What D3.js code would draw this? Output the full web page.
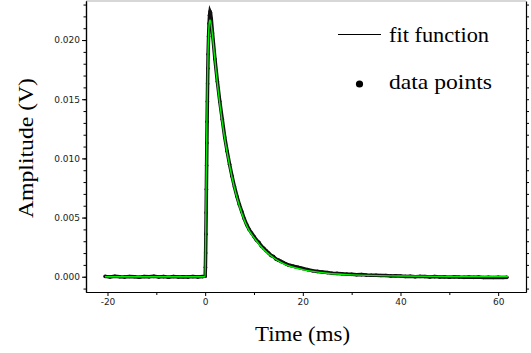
<!DOCTYPE html>
<html>
<head>
<meta charset="utf-8">
<script src="https://cdn.jsdelivr.net/npm/d3@7"></script>
<style>
  html, body { margin: 0; padding: 0; background: #fff; }
  svg { display: block; }
</style>
</head>
<body>
<div id="chart"></div>
<script>
// Measured trace (time in ms, amplitude in V)
const dataTime = [
  -20.5, -19.5, -18.5, -17.5, -16.5, -15.5, -14.5, -13.5, -12.5, -11.5, -10.5,
  -9.5, -8.5, -7.5, -6.5, -5.5, -4.5, -3.5, -2.5, -1.5, -0.5, 0,
  0.05, 0.1, 0.15, 0.2, 0.25, 0.3, 0.35, 0.4, 0.45, 0.5, 0.55, 0.6, 0.7, 0.8, 0.9, 1.0, 1.1, 1.25,
  1.5, 2, 2.5, 3, 3.5, 4, 4.5, 5, 5.5, 6, 6.5, 7, 7.5, 8, 8.5, 9, 9.5, 10,
  10.5, 11, 11.5, 12, 12.5, 13, 13.5, 14, 14.5, 15, 15.5, 16, 16.5, 17, 17.5, 18, 18.5, 19, 19.5, 20,
  21, 22, 23, 24, 25, 26, 27, 28, 29, 30, 31, 32, 33, 34, 35, 36, 37, 38, 39, 40,
  41, 42, 43, 44, 45, 46, 47, 48, 49, 50, 51, 52, 53, 54, 55, 56, 57, 58, 59, 60, 61, 61.8
];
const dataAmp = [
  0.00003, -0.00002, 0.00004, 0.0000, -0.00003, 0.00002, 0.0000, -0.00004, 0.00002, -0.00001, 0.00003,
  -0.00002, 0.00001, -0.00004, 0.00002, -0.00002, 0.0000, -0.00003, 0.00001, -0.00002, 0.00001, 0.00005,
  0.0008, 0.0020, 0.0036, 0.0054, 0.0074, 0.0094, 0.0113, 0.0131, 0.0148, 0.0163, 0.0176, 0.0188, 0.0203, 0.0214, 0.0221, 0.0224, 0.0223, 0.0218,
  0.0206, 0.0184, 0.0165, 0.0148, 0.0133, 0.0118, 0.0106, 0.0095, 0.0085, 0.0076, 0.0068, 0.0061, 0.0055, 0.0049, 0.0044, 0.0040, 0.0037, 0.0034,
  0.0031, 0.0029, 0.0026, 0.0024, 0.0022, 0.0020, 0.0018, 0.0017, 0.0015, 0.0014, 0.0013, 0.0012, 0.0011, 0.0010, 0.00095, 0.0009, 0.00085, 0.0008, 0.00075, 0.0007,
  0.0006, 0.0005, 0.00045, 0.0004, 0.00035, 0.0003, 0.00028, 0.00025, 0.00022, 0.0002, 0.00017, 0.00018, 0.00014, 0.00012, 0.00012, 0.0001, 0.0001, 0.00007, 0.00008, 0.00006,
  0.00003, 0.00004, 0.0000, 0.00003, 0.00001, -0.00002, 0.00001, -0.00002, 0.0000, -0.00004, 0.0000, -0.00003, -0.00005, -0.00002, -0.00005, -0.00003, -0.00006, -0.00004, -0.00006, -0.00004, -0.00007, -0.00005
];

// Fitted curve (time in ms, amplitude in V)
const fitTime = [
  -20.5, -10, -1, 0, 0.1, 0.2, 0.3, 0.4, 0.5, 0.6, 0.7, 0.8, 0.9, 1.0, 1.1, 1.3, 1.6,
  2, 3, 4, 5, 6, 7, 8, 9, 10, 12, 14, 16, 18, 20, 25, 30, 40, 50, 62
];
const fitAmp = [
  0, 0, 0, 0, 0.0035, 0.0075, 0.0112, 0.0145, 0.0171, 0.0191, 0.0204, 0.0212, 0.0216, 0.0217, 0.0216, 0.0211, 0.0200,
  0.0183, 0.0146, 0.0117, 0.0094, 0.0075, 0.0060, 0.0048, 0.0039, 0.0033, 0.0023, 0.0016, 0.0011, 0.0008, 0.0006, 0.0003, 0.00016, 0.00006, 0.00002, 0.00001
];

// Axis ticks
const xMajorTicks = [-20, 0, 20, 40, 60];
const xMinorTicks = [-10, 10, 30, 50];
const yMajorTicks = [0, 0.005, 0.01, 0.015, 0.02];
const yMinorTicks = d3.range(-0.001, 0.0235, 0.001);

const legendLabels = ['fit function', 'data points'];

const width = 531;
const height = 353;
const margin = { left: 86, right: 5, top: 1, bottom: 61 };

const svg = d3.select('#chart')
  .append('svg')
    .attr('width', width)
    .attr('height', height);

// Scales
const x = d3.scaleLinear()
  .domain([-24.4, 65.7])
  .range([margin.left, width - margin.right]);
const y = d3.scaleLinear()
  .domain([-0.00129, 0.0233])
  .range([height - margin.bottom, margin.top]);

const tickFont = '9px "DejaVu Sans", sans-serif';
const serif = '"Liberation Serif", "Times New Roman", serif';

// Top border
svg.append('line')
  .attr('x1', margin.left)
  .attr('x2', width - margin.right)
  .attr('y1', margin.top)
  .attr('y2', margin.top)
  .attr('stroke', '#b0b0b0')
  .attr('stroke-width', 1.2);

// Right axis (minor ticks only)
svg.append('g')
  .attr('transform', 'translate(' + (width - margin.right) + ',0)')
  .call(d3.axisRight(y).tickValues(yMinorTicks).tickSize(3).tickFormat('').tickSizeOuter(0));

// Left axis
svg.append('g')
  .attr('transform', 'translate(' + margin.left + ',0)')
  .call(d3.axisLeft(y).tickValues(yMinorTicks).tickSize(2.5).tickFormat('').tickSizeOuter(0));
const yAxis = svg.append('g')
  .attr('transform', 'translate(' + margin.left + ',0)')
  .call(d3.axisLeft(y).tickValues(yMajorTicks).tickSize(4).tickPadding(2)
    .tickFormat(d3.format('.3f')).tickSizeOuter(0));
yAxis.selectAll('text').style('font', tickFont).attr('fill', '#222');

// Bottom axis
svg.append('g')
  .attr('transform', 'translate(0,' + (height - margin.bottom) + ')')
  .call(d3.axisBottom(x).tickValues(xMinorTicks).tickSize(3).tickFormat('').tickSizeOuter(0));
const xAxis = svg.append('g')
  .attr('transform', 'translate(0,' + (height - margin.bottom) + ')')
  .call(d3.axisBottom(x).tickValues(xMajorTicks).tickSize(4).tickPadding(3)
    .tickFormat(d => String(d)).tickSizeOuter(0));
xAxis.selectAll('text').style('font', tickFont).attr('fill', '#222');

svg.selectAll('.domain').attr('stroke', '#000').attr('stroke-width', 1.2);

// Data points: dense samples drawn as a dark band of dots
const data = dataTime.map((t, i) => ({ t: t, v: dataAmp[i] }));
svg.append('path')
  .datum(data)
  .attr('fill', 'none')
  .attr('stroke', '#111')
  .attr('stroke-width', 3.5)
  .attr('d', d3.line().x(d => x(d.t)).y(d => y(d.v)));
svg.append('g')
  .selectAll('circle')
  .data(data)
  .join('circle')
    .attr('cx', d => x(d.t))
    .attr('cy', d => y(d.v))
    .attr('r', 1.8)
    .attr('fill', '#111');

// Fit function
const fit = fitTime.map((t, i) => ({ t: t, v: fitAmp[i] }));
svg.append('path')
  .datum(fit)
  .attr('fill', 'none')
  .attr('stroke', '#00f000')
  .attr('stroke-width', 1.4)
  .attr('d', d3.line().curve(d3.curveMonotoneX).x(d => x(d.t)).y(d => y(d.v)));

// Legend
const legend = svg.append('g');
legend.append('line')
  .attr('x1', 338).attr('x2', 381)
  .attr('y1', 34.5).attr('y2', 34.5)
  .attr('stroke', '#000')
  .attr('stroke-width', 1.2);
legend.append('circle')
  .attr('cx', 359.5).attr('cy', 84)
  .attr('r', 3.6)
  .attr('fill', '#000');
legend.selectAll('text')
  .data(legendLabels)
  .join('text')
    .attr('x', 389)
    .attr('y', (d, i) => 42 + i * 47)
    .attr('textLength', (d, i) => i === 0 ? 100 : 103)
    .attr('lengthAdjust', 'spacingAndGlyphs')
    .style('font', '21px ' + serif)
    .text(d => d);

// Axis titles
svg.append('text')
  .attr('x', 302.5)
  .attr('y', 341)
  .attr('text-anchor', 'middle')
  .attr('textLength', 95)
  .attr('lengthAdjust', 'spacingAndGlyphs')
  .style('font', '22px ' + serif)
  .text('Time (ms)');
svg.append('text')
  .attr('transform', 'translate(33,148) rotate(-90)')
  .attr('text-anchor', 'middle')
  .attr('textLength', 140)
  .attr('lengthAdjust', 'spacingAndGlyphs')
  .style('font', '22px ' + serif)
  .text('Amplitude (V)');
</script>
</body>
</html>
